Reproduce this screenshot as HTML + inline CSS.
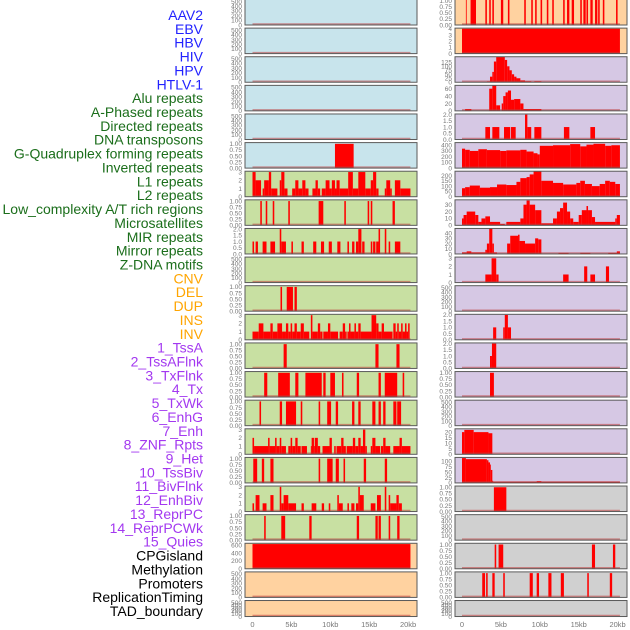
<!DOCTYPE html>
<html><head><meta charset="utf-8"><style>
html,body{margin:0;padding:0;background:#fff;}
svg{display:block;font-family:"Liberation Sans",sans-serif;}
</style></head><body>
<svg id="chart" width="630" height="630" viewBox="0 0 630 630"></svg>
<script>
const labels=["AAV2","EBV","HBV","HIV","HPV","HTLV-1","Alu repeats","A-Phased repeats","Directed repeats","DNA transposons","G-Quadruplex forming repeats","Inverted repeats","L1 repeats","L2 repeats","Low_complexity A/T rich regions","Microsatellites","MIR repeats","Mirror repeats","Z-DNA motifs","CNV","DEL","DUP","INS","INV","1_TssA","2_TssAFlnk","3_TxFlnk","4_Tx","5_TxWk","6_EnhG","7_Enh","8_ZNF_Rpts","9_Het","10_TssBiv","11_BivFlnk","12_EnhBiv","13_ReprPC","14_ReprPCWk","15_Quies","CPGisland","Methylation","Promoters","ReplicationTiming","TAD_boundary"];
const labelGroups=[6,13,5,15,5];
const groupColors=["#2222ff","#1b6e1b","#ffa500","#a338f0","#000000"];
const xTicks=[0,5,10,15,20];
const xTickLabels=["0","5kb","10kb","15kb","20kb"];
const t01=[0,0.25,0.5,0.75,1];
const t01L=["0.00","0.25","0.50","0.75","1.00"];
const t500=[0,100,200,300,400,500];
const t3=[0,1,2,3];
const t2=[0,0.5,1,1.5,2];
const t2L=["0.0","0.5","1.0","1.5","2.0"];
// left column panels: [yMax, ticks, tickLabels, segments]
const L0=[],L1=[],L2=[],L3=[],L4=[];
const L5=[[10.6,13.0,1]];
const L6=[[0,0.4,3],[0.4,1.1,2],[1.3,1.5,1],[1.5,2.1,2],[2.1,2.4,3],[2.4,3.2,1],[3.5,3.7,2],[3.7,4.1,3],[4.1,4.5,1],[5.1,5.5,1],[5.5,5.9,2],[5.9,6.4,1],[6.4,6.8,2],[6.8,7.2,1],[7.7,8.1,1],[8.1,8.4,2],[8.4,8.7,1],[8.9,9.4,1],[9.4,9.9,2],[9.9,10.2,1],[10.2,10.6,2],[10.6,10.8,1],[10.8,11.2,2],[11.2,12.3,1],[12.3,12.9,3],[12.9,13.6,1],[13.6,14.5,3],[14.5,15.2,1],[15.2,15.5,2],[15.5,15.9,3],[15.9,16.2,1],[17.0,17.2,1],[17.2,17.7,2],[17.7,17.9,1],[18.3,19.0,2],[19.0,20.3,1]];
const L7=[[1.0,1.2,1],[1.7,1.9,1],[2.6,2.8,1],[4.6,4.8,1],[8.5,9.1,1],[11.8,12.0,1],[14.8,15.0,1],[15.2,15.4,1],[18.0,18.3,1]];
const L8=[[0,0.2,1],[0.4,0.7,1],[1.3,1.8,1],[2.3,2.9,1],[3.5,3.7,2],[3.7,4.3,1],[5.0,5.2,1],[6.3,6.6,1],[7.8,8.2,1],[8.8,9.2,1],[9.8,10.2,1],[10.9,11.3,1],[12.2,12.4,1],[12.8,13.1,1],[13.3,13.6,1],[13.6,14.0,2],[14.1,14.4,1],[15.2,15.4,1],[15.5,15.8,1],[15.9,16.2,1],[16.2,16.4,2],[17.0,17.2,2],[17.5,17.7,1],[18.3,19.0,1]];
const L9=[];
const L10=[[3.6,3.8,1],[4.4,5.2,1],[5.4,5.7,1]];
const L11=[[0,0.8,1],[0.8,1.4,2],[1.4,2.3,1],[2.3,2.6,2],[2.6,3.2,1],[3.2,3.8,2],[3.8,4.3,1],[4.3,4.6,2],[4.6,4.9,1],[4.9,5.1,2],[5.1,5.4,1],[5.4,5.7,2],[5.7,6.2,1],[6.2,6.6,2],[6.6,7.3,1],[7.5,7.7,3],[7.7,8.4,1],[8.4,8.7,2],[8.7,9.0,1],[9.1,9.7,1],[9.7,10.0,2],[10.0,11.0,1],[11.2,11.6,1],[11.6,11.9,2],[11.9,12.1,1],[12.2,12.4,1],[12.4,12.6,2],[12.6,13.1,1],[13.1,13.3,2],[13.3,13.6,1],[13.6,13.9,2],[13.9,15.3,1],[15.3,15.9,3],[15.9,16.2,2],[16.2,16.6,1],[16.6,16.9,2],[16.9,18.0,1],[18.1,18.4,2],[18.4,18.6,1],[18.6,18.8,2],[18.8,19.1,1],[19.1,19.3,2],[19.3,19.6,1],[19.6,19.8,2],[19.8,20.0,1],[20.0,20.2,2]];
const L12=[[4.0,4.4,1],[15.8,16.2,1],[18.5,18.9,1]];
const L13=[[1.5,1.9,1],[3.3,4.8,1],[5.5,5.9,1],[6.8,8.9,1],[9.1,9.4,1],[10.0,10.6,1],[11.5,11.7,1],[13.4,13.7,1],[16.2,16.5,1],[17.0,18.6,1],[19.3,19.5,1]];
const L14=[[0.9,1.1,1],[3.5,3.8,1],[4.3,5.6,1],[6.2,6.4,1],[8.5,8.7,1],[9.6,10.1,1],[10.7,11.0,1],[12.8,13.1,1],[13.6,13.9,1],[15.4,15.8,1],[16.2,16.5,1],[16.8,17.1,1],[18.1,18.5,1],[18.6,19.1,1]];
const L15=[[0,0.2,2],[0.2,2.0,1],[2.0,2.2,2],[2.2,2.9,1],[2.9,3.1,2],[3.1,3.5,1],[3.5,3.7,2],[3.7,4.3,1],[4.6,4.9,1],[4.9,5.1,2],[5.1,5.5,1],[5.5,5.8,2],[5.8,6.2,1],[6.3,7.0,1],[7.5,7.6,1],[7.6,7.9,2],[7.9,8.0,1],[8.0,8.4,2],[8.4,8.7,1],[9.0,9.9,1],[9.9,10.2,2],[10.5,10.7,1],[10.8,11.4,1],[11.4,11.7,2],[11.7,12.0,1],[12.1,12.9,1],[12.9,13.2,2],[13.2,13.6,1],[13.6,13.9,2],[13.9,14.2,1],[14.2,14.5,3],[14.5,14.7,1],[15.2,15.4,1],[15.4,15.8,2],[15.8,16.4,1],[16.5,16.8,1],[16.8,17.1,2],[17.1,17.7,1],[18.1,18.9,1],[18.9,19.2,2],[19.2,20.3,1]];
const L16=[[0.1,0.6,1],[1.2,1.5,1],[2.3,2.7,1],[8.5,8.7,1],[9.6,10.3,1],[10.7,11.1,1],[11.7,11.9,1],[14.3,14.6,1],[17.0,17.3,1]];
const L17=[[0,0.2,1],[0.4,0.9,2],[1.3,1.8,1],[2.3,2.7,2],[3.5,3.7,3],[3.7,4.0,1],[4.0,4.6,2],[4.6,5.6,1],[6.3,6.6,1],[7.6,8.2,1],[8.9,9.2,1],[9.8,10.0,1],[10.9,11.1,2],[11.1,11.6,1],[12.2,12.4,1],[12.7,13.1,1],[13.3,13.6,1],[13.6,13.8,3],[13.8,14.3,2],[15.2,15.8,1],[16.0,16.5,2],[17.0,17.2,3],[17.5,17.7,2],[17.7,18.5,1],[18.5,18.8,2],[18.8,19.2,1]];
const L18=[[1.5,1.7,1],[3.7,4.2,1],[7.3,7.6,1],[13.4,13.7,1],[15.8,16.1,1],[16.2,16.5,1],[17.5,17.7,1],[18.6,18.9,1]];
const L19=[[0,20.3,630]];
const L20=[],L21=[];
// right column
const R0=[[0.5,0.6,1],[1.1,1.8,1],[3.0,3.2,1],[3.5,3.7,1],[3.9,4.1,1],[5.0,5.3,1],[5.9,6.1,1],[8.0,8.2,1],[8.9,9.1,1],[9.4,9.6,1],[10.1,10.3,1],[10.9,11.1,1],[11.6,11.8,1],[13.0,13.2,1],[13.5,13.8,1],[14.1,14.4,1],[15.2,15.4,1],[15.6,15.9,1],[16.0,16.2,1],[16.5,16.8,1],[17.1,17.4,1],[17.5,17.7,1],[18.1,18.3,1],[19.8,20.0,1]];
const R1=[[0,20.3,4]];
const R2=[[3.2,3.6,5],[3.6,3.9,35],[3.9,4.1,65],[4.1,4.4,130],[4.4,5.5,160],[5.5,5.8,140],[5.8,6.1,100],[6.1,6.4,75],[6.4,6.7,50],[6.7,7.0,35],[7.0,7.5,25],[7.5,8.1,12],[8.1,8.9,6],[9.3,10.2,6]];
const R3=[[0.4,1.2,5],[3.5,3.9,60],[3.9,4.4,69],[4.4,4.9,15],[5.1,5.3,20],[5.3,5.6,40],[5.6,5.9,50],[5.9,6.3,55],[6.3,6.7,30],[6.7,7.5,32],[7.5,7.9,20],[7.9,10.2,5]];
const R4=[[3.0,3.6,1],[3.9,4.8,1],[5.4,6.2,1],[6.3,6.9,1],[8.1,8.4,2],[8.4,8.9,1],[9.3,10.2,1],[13.1,13.8,1],[16.5,17.1,1]];
const R5=[[0,0.4,340],[0.4,1.0,320],[1.0,2.1,300],[2.1,3.2,330],[3.2,4.9,315],[4.9,5.7,300],[5.7,7.5,310],[7.5,8.3,320],[8.3,9.2,290],[9.2,9.7,260],[9.7,10.0,240],[10.0,11.7,390],[11.7,13.9,400],[13.9,15.2,420],[15.2,16.0,380],[16.0,16.9,410],[16.9,18.4,425],[18.4,19.2,390],[19.2,20.3,400]];
const R6=[[0,0.4,80],[0.4,1.0,90],[1.0,2.3,105],[2.3,3.6,85],[3.6,4.5,90],[4.5,5.7,115],[5.7,7.0,110],[7.0,7.5,140],[7.5,8.3,175],[8.3,8.7,185],[8.7,9.2,210],[9.2,10.2,240],[10.2,11.7,150],[11.7,13.0,130],[13.0,14.7,115],[14.7,15.2,130],[15.2,15.8,150],[15.8,16.7,120],[16.7,17.7,100],[17.7,18.4,120],[18.4,19.0,150],[19.0,19.7,140],[19.7,20.3,120]];
const R7=[[0,0.2,10],[0.2,0.6,15],[0.6,1.7,20],[1.7,2.1,15],[2.1,2.5,5],[2.5,3.0,10],[3.0,3.6,13],[3.6,4.9,5],[4.9,5.5,2],[5.7,7.5,5],[7.5,7.9,10],[7.9,8.3,30],[8.3,8.7,36],[8.7,9.4,30],[9.4,10.2,22],[10.2,11.7,3],[11.7,12.2,10],[12.2,12.6,20],[12.6,13.0,25],[13.0,13.5,33],[13.5,13.9,20],[13.9,14.3,10],[14.3,15.0,5],[15.0,15.4,15],[15.4,16.0,22],[16.0,16.2,28],[16.2,16.7,22],[16.7,17.1,12],[17.1,19.7,5],[19.7,19.9,10],[19.9,20.3,15]];
const R8=[[0,0.6,3],[0.6,1.2,5],[1.2,3.0,3],[3.0,3.2,8],[3.2,3.5,20],[3.5,3.9,49],[3.9,4.1,20],[4.1,4.5,3],[5.8,6.2,20],[6.2,7.2,35],[7.2,7.4,37],[7.4,8.1,25],[8.1,9.4,20],[9.4,9.8,30],[9.8,10.2,28],[12.4,13.7,2],[15.2,16.5,2],[18.8,19.9,2],[19.9,20.3,5]];
const R9=[[3.0,3.8,1],[3.8,4.4,3],[4.4,4.7,1],[13.0,13.7,1],[15.7,16.1,2],[16.5,17.1,1],[18.5,18.9,2]];
const R10=[];
const R11=[[4.0,4.4,1],[5.3,5.5,1],[5.5,5.9,2],[5.9,6.3,1]];
const R12=[[3.6,3.85,1],[3.85,4.4,2]];
const R13=[[3.6,4.1,1]];
const R14=[];
const R15=[[0,0.3,20],[0.3,1.5,22],[1.5,3.4,20],[3.4,3.9,19]];
const R16=[[0,0.5,115],[0.5,3.2,110],[3.2,3.4,105],[3.4,3.6,95],[3.6,3.7,85],[3.7,3.9,60],[3.9,4.0,10],[4.0,9.6,5],[9.6,10.2,8],[10.2,20.3,5]];
const R17=[[4.1,5.7,1]];
const R18=[];
const R19=[[4.2,4.4,1],[4.7,5.3,1],[16.7,17.1,1],[19.4,19.7,1]];
const R20=[[2.6,2.96,1],[3.1,3.3,1],[3.9,4.2,1],[5.3,5.5,1],[8.7,9.1,1],[9.6,9.9,1],[11.1,11.5,1],[12.7,13.1,1],[16.1,16.3,1],[19.0,19.3,1]];
const R21=[];
const leftData=[L0,L1,L2,L3,L4,L5,L6,L7,L8,L9,L10,L11,L12,L13,L14,L15,L16,L17,L18,L19,L20,L21];
const rightData=[R0,R1,R2,R3,R4,R5,R6,R7,R8,R9,R10,R11,R12,R13,R14,R15,R16,R17,R18,R19,R20,R21];
const leftMax=[500,500,500,500,500,1.05,3.1,1.05,2.05,500,1.05,3.1,1.05,1.05,1.05,3.1,1.05,3.1,1.05,650,500,500];
const rightMax=[1.05,4.1,160,69,2.05,446,240,37,49,3.15,500,2.05,2.05,1.05,500,23,118,1.05,500,1.05,1.05,500];
const leftTickSet=["500","500","500","500","500","01","3","01","2","500","01","3","01","01","01","3","01","3","01","600","500","500"];
const rightTickSet=["01","4","125","60","2","400","200","30","40","3","500","2","2","01","500","20","100","01","500","01","01","500"];
const leftBg=["#c8e4ec","#c8e4ec","#c8e4ec","#c8e4ec","#c8e4ec","#c8e4ec","#c8e0a2","#c8e0a2","#c8e0a2","#c8e0a2","#c8e0a2","#c8e0a2","#c8e0a2","#c8e0a2","#c8e0a2","#c8e0a2","#c8e0a2","#c8e0a2","#c8e0a2","#ffd2a0","#ffd2a0","#ffd2a0"];
const rightBg=["#ffd2a0","#ffd2a0","#d6c8e4","#d6c8e4","#d6c8e4","#d6c8e4","#d6c8e4","#d6c8e4","#d6c8e4","#d6c8e4","#d6c8e4","#d6c8e4","#d6c8e4","#d6c8e4","#d6c8e4","#d6c8e4","#d6c8e4","#d0d0d0","#d0d0d0","#d0d0d0","#d0d0d0","#d0d0d0"];

const NS="http://www.w3.org/2000/svg";
const svg=document.getElementById('chart');
function mk(tag,attrs,parent){const e=document.createElementNS(NS,tag);for(const k in attrs)e.setAttribute(k,attrs[k]);(parent||svg).appendChild(e);return e;}
function tickDef(key){
  if(key==="500")return [t500,t500.map(String)];
  if(key==="01")return [t01,t01L];
  if(key==="3")return [t3,t3.map(String)];
  if(key==="2")return [t2,t2L];
  if(key==="4")return [[0,1,2,3,4],["0","1","2","3","4"]];
  if(key==="125")return [[0,25,50,75,100,125],["0","25","50","75","100","125"]];
  if(key==="60")return [[0,20,40,60],["0","20","40","60"]];
  if(key==="400")return [[0,100,200,300,400],["0","100","200","300","400"]];
  if(key==="200")return [[0,50,100,150,200],["0","50","100","150","200"]];
  if(key==="30")return [[0,10,20,30],["0","10","20","30"]];
  if(key==="40")return [[0,10,20,30,40],["0","10","20","30","40"]];
  if(key==="20")return [[0,5,10,15,20],["0","5","10","15","20"]];
  if(key==="100")return [[0,25,50,75,100],["0","25","50","75","100"]];
  if(key==="600")return [[0,200,400,600],["0","200","400","600"]];
  return [[],[]];
}
const rowTop=i=>-0.5+28.62*i;
const rowH=i=>i===21?16:25.5;
const KB=7.78;

// labels
let li=0;
labelGroups.forEach((n,g)=>{for(let k=0;k<n;k++){
  const t=mk('text',{x:203,y:15+13.86*li+5,'text-anchor':'end','font-size':'14',fill:groupColors[g]});
  t.textContent=labels[li];
  
  
  li++;}});

function drawPanel(col,i){
  const left=col===0?245:455, width=172, x0=col===0?252.5:462;
  const data=col===0?leftData[i]:rightData[i];
  const ymax=col===0?leftMax[i]:rightMax[i];
  const bg=col===0?leftBg[i]:rightBg[i];
  const tk=tickDef(col===0?leftTickSet[i]:rightTickSet[i]);
  const top=rowTop(i), h=rowH(i), bottom=top+h;
  const xs=kb=>x0+kb*KB;
  const ys=v=>bottom-Math.min(v,ymax)/ymax*h;
  const g=mk('g',{});
  
  
  const r=mk('rect',{x:left,y:top,width:width,height:h,fill:bg},g);
  
  
  const stripes=(col===1&&i===0);
  data.forEach(s=>{
    const b=mk('rect',{x:xs(s[0]),y:stripes?top:ys(s[2]),width:Math.max(0.8,(s[1]-s[0])*KB),height:stripes?h:bottom-ys(s[2]),fill:'#ff0000'},g);
    
    
  });
  const bl=mk('line',{x1:xs(0),x2:xs(20.3),y1:bottom-1,y2:bottom-1,stroke:'rgba(190,60,60,0.55)','stroke-width':1.5},g);
  
  
  mk('rect',{x:left,y:top,width:width,height:h,fill:'none',stroke:'#5a5a5a','stroke-width':1},g);
  const scaleMax=(tk[0].length?tk[0][tk[0].length-1]:1);
  tk[0].forEach((v,k)=>{
    let y=ys(v);
    if(ymax===500 && tk[0].length===6) y=bottom-(v/500)*(h-2);
    const t=mk('text',{x:left-3,y:y+2.3,'text-anchor':'end','font-size':'6.5',fill:'#777'},g);
    t.textContent=tk[1][k];
    
    
  });
}
for(let i=0;i<22;i++){drawPanel(0,i);drawPanel(1,i);}
[252.5,462].forEach((x0,c)=>{
  xTicks.forEach((v,k)=>{
    const t=mk('text',{x:x0+v*KB,y:627,'text-anchor':'middle','font-size':'7.5',fill:'#777'});
    t.textContent=xTickLabels[k];
    
    
  });
});
</script>
</body></html>
